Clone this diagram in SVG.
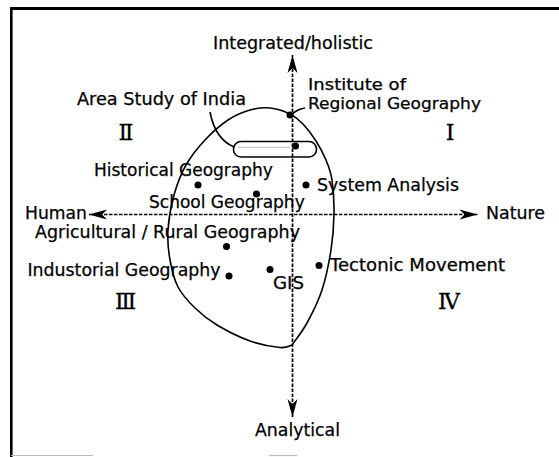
<svg xmlns="http://www.w3.org/2000/svg" width="559" height="457" viewBox="0 0 559 457">
<style>
.t{font-family:"DejaVu Sans","Liberation Sans",sans-serif;font-size:17px;fill:#000;stroke:#000;stroke-width:0.25}
.s{font-size:15.5px}
.r{font-family:"DejaVu Serif","Liberation Serif",serif;font-size:22px;fill:#000;stroke:#000;stroke-width:0.3}
.dot{fill:#000}
.axis{stroke:#000;stroke-width:1.7;stroke-dasharray:3.5 1.5;fill:none}
.ln{stroke:#000;stroke-width:1.6;fill:none}
</style>
<defs>
<marker id="ah" viewBox="-20 -6 21 12" refX="0" refY="0" markerWidth="21" markerHeight="12" markerUnits="userSpaceOnUse" orient="auto-start-reverse">
<path d="M0,0 L-18,-5 L-13,0 L-18,5 Z" fill="#000" stroke="none"/>
</marker>
</defs>
<rect width="559" height="457" fill="#fff"/>
<g id="frame">
<line x1="10" y1="8.5" x2="559" y2="8.5" stroke="#000" stroke-width="3"/>
<line x1="11.3" y1="7" x2="11.3" y2="457" stroke="#000" stroke-width="2.6"/>
<line x1="11" y1="455.5" x2="93" y2="455.5" stroke="#bbb" stroke-width="1.2"/>
<line x1="269" y1="455.5" x2="297" y2="455.5" stroke="#bbb" stroke-width="1.2"/>
</g>
<g id="region">
<path class="ln" stroke-width="2.2" d="M292,345 C294.5,341.3 302,332.2 307,323 C312,313.8 318,302.2 322,290 C326,277.8 329,262.7 331,250 C333,237.3 333.8,225.7 334,214 C334.2,202.3 333.3,189 332,180 C330.7,171 328.7,166.5 326,160 C323.3,153.5 319.8,147 316,141 C312.2,135 307.3,128.5 303,124 C298.7,119.5 295.5,116.7 290,114 C284.5,111.3 276.7,108.7 270,108 C263.3,107.3 257,108 250,110 C243,112 235.5,115 228,120 C220.5,125 212,132.5 205,140 C198,147.5 191.2,155.8 186,165 C180.8,174.2 177,184.2 174,195 C171,205.8 168.7,219.2 168,230 C167.3,240.8 168.3,250.5 170,260 C171.7,269.5 173.8,279 178,287 C182.2,295 188.5,301.7 195,308 C201.5,314.3 207.8,319.5 217,325 C226.2,330.5 239.5,337.25 250,341 C260.5,344.75 273,346.8 280,347.5 C287,348.2 290,345.4 292,345"/>
</g>
<g id="connectors">
<line class="axis" x1="292.5" y1="417" x2="292.5" y2="55" marker-start="url(#ah)" marker-end="url(#ah)"/>
<line class="axis" x1="89" y1="214.5" x2="477.5" y2="214.5" marker-start="url(#ah)" marker-end="url(#ah)"/>
<path class="ln" stroke-width="1.5" d="M210,112 C213,128 220,141 234,147"/>
<path class="ln" stroke-width="1.5" d="M292,114 Q298,109 305,108"/>
</g>
<g id="area-study-india">
<rect x="233.5" y="141.5" width="83" height="15.5" rx="7.5" class="ln" stroke-width="2.2"/>
<line x1="238" y1="147.3" x2="290" y2="147.3" stroke="#aaa" stroke-width="0.8"/>
<circle class="dot" cx="295.5" cy="146" r="3.5"/>
<text class="t" x="77" y="105" textLength="169" lengthAdjust="spacingAndGlyphs">Area Study of India</text>
</g>
<g id="institute">
<circle class="dot" cx="290" cy="115" r="3.5"/>
<text class="t s" x="308" y="90" textLength="98" lengthAdjust="spacingAndGlyphs">Institute of</text>
<text class="t s" x="308" y="108.5" textLength="173" lengthAdjust="spacingAndGlyphs">Regional Geography</text>
</g>
<g id="historical">
<circle class="dot" cx="198" cy="185" r="3.5"/>
<text class="t" x="94" y="176">Historical Geography</text>
</g>
<g id="school">
<circle class="dot" cx="256.5" cy="194" r="3.5"/>
<text class="t" x="149" y="208">School Geography</text>
</g>
<g id="system">
<circle class="dot" cx="306" cy="185" r="3.5"/>
<text class="t" x="317" y="190.5" textLength="142" lengthAdjust="spacingAndGlyphs">System Analysis</text>
</g>
<g id="agricultural">
<circle class="dot" cx="226.5" cy="246.5" r="3.5"/>
<text class="t" x="35" y="238" textLength="265" lengthAdjust="spacingAndGlyphs">Agricultural / Rural Geography</text>
</g>
<g id="industorial">
<circle class="dot" cx="229" cy="276" r="3.5"/>
<text class="t" x="27.5" y="276" textLength="193" lengthAdjust="spacingAndGlyphs">Industorial Geography</text>
</g>
<g id="gis">
<circle class="dot" cx="270" cy="269.5" r="3.5"/>
<text class="t" x="273" y="288.5" textLength="31" lengthAdjust="spacingAndGlyphs">GIS</text>
</g>
<g id="tectonic">
<circle class="dot" cx="319" cy="265.5" r="3.5"/>
<text class="t" x="330" y="270.5" textLength="175" lengthAdjust="spacingAndGlyphs">Tectonic Movement</text>
</g>
<g id="axis-labels">
<text class="t" x="213" y="48.5" textLength="160" lengthAdjust="spacingAndGlyphs">Integrated/holistic</text>
<text class="t" x="255" y="436" textLength="85" lengthAdjust="spacingAndGlyphs">Analytical</text>
<text class="t" x="25" y="218.5" textLength="62" lengthAdjust="spacingAndGlyphs">Human</text>
<text class="t" x="486" y="218.5" textLength="59" lengthAdjust="spacingAndGlyphs">Nature</text>
</g>
<g id="quadrants">
<text class="r" x="126" y="140" text-anchor="middle">Ⅱ</text>
<text class="r" x="450" y="140" text-anchor="middle">Ⅰ</text>
<text class="r" x="125.5" y="309" text-anchor="middle">Ⅲ</text>
<text class="r" x="449" y="309" text-anchor="middle">Ⅳ</text>
</g>
</svg>
